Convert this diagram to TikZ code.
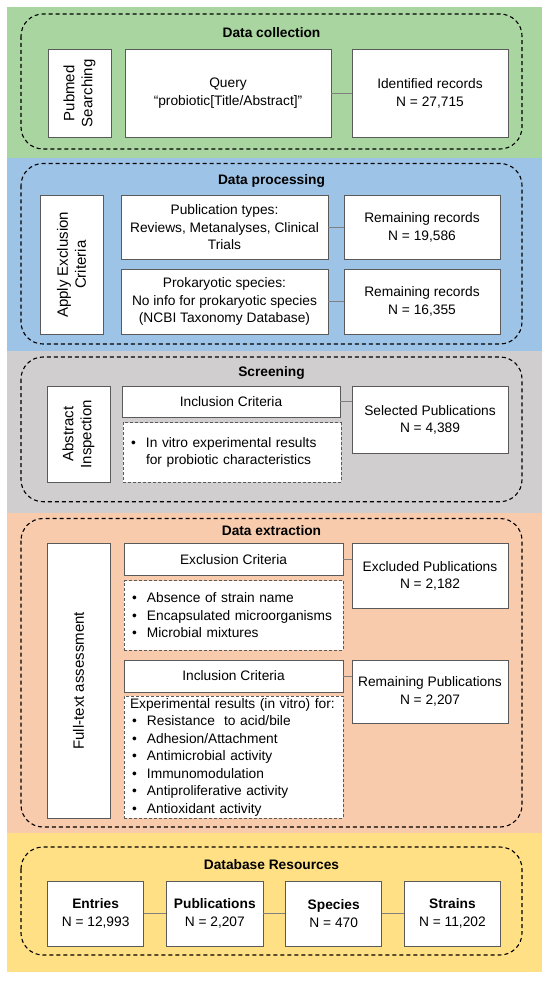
\documentclass[tikz,border=0pt]{standalone}
\usepackage{fontspec}
\setmainfont{Liberation Sans}
\definecolor{bgreen}{HTML}{A9D5A0}
\definecolor{bblue}{HTML}{9DC3E6}
\definecolor{bgray}{HTML}{D0CECE}
\definecolor{borange}{HTML}{F8CBAD}
\definecolor{byellow}{HTML}{FFE085}
\definecolor{boxc}{HTML}{5A5A5A}
\definecolor{linkc}{HTML}{808080}
\newcommand\fsz{\fontsize{13.75}{17.5}\selectfont}
\newcommand\rsz{\fontsize{15}{18}\selectfont}
\newcommand\bitem{\makebox[17pt][l]{\hspace{2pt}•}}
\begin{document}
\begin{tikzpicture}[x=1pt,y=-1pt,
  box/.style={draw=boxc, fill=white, line width=0.9pt, inner sep=2pt, align=center, font=\fsz},
  rbox/.style={box, rotate=90, font=\rsz},
  listbox/.style={draw=boxc, fill=white, dash pattern=on 3pt off 2pt, line width=0.9pt, inner xsep=6pt, inner ysep=2pt, align=left, font=\fsz},
  frame/.style={draw=black, line width=1.1pt, dash pattern=on 4pt off 3pt, rounded corners=22pt},
  ttl/.style={font=\fsz\bfseries},
  link/.style={draw=linkc, line width=0.8pt}]
\useasboundingbox (0,0) rectangle (550,984);
% bands
\fill[bgreen] (7,7) rectangle (542,158);
\fill[bblue] (7,158) rectangle (542,350.5);
\fill[bgray] (7,350.5) rectangle (542,512.5);
\fill[borange] (7,512.5) rectangle (542,832.5);
\fill[byellow] (7,832.5) rectangle (542,972);
% frames
\draw[frame] (21,14) rectangle (522,149);
\draw[frame] (21,163.5) rectangle (522,344);
\draw[frame] (21,357) rectangle (522,501.7);
\draw[frame] (21,518.5) rectangle (522,827);
\draw[frame] (21,847) rectangle (522,955);
% titles
\node[ttl] (t1) at (271.5,32.5) {Data collection};
\node[ttl] (t2) at (271.5,181) {Data processing};
\node[ttl] (t3) at (271.5,373) {Screening};
\node[ttl] (t4) at (271.5,530.5) {Data extraction};
\node[ttl] (t5) at (271.5,865) {Database Resources};
% data collection
\node[rbox, minimum width=87.5pt, minimum height=63pt] (pub) at (79.5,93.25) {Pubmed\\Searching};
\node[box, minimum width=206pt, minimum height=87.5pt] (query) at (228,93.25) {Query\\“probiotic[Title/Abstract]"};
\node[box, minimum width=156pt, minimum height=87.5pt] (ident) at (430,93.25) {Identified records\\N = 27,715};
\draw[link] (query.east) -- (ident.west);
% data processing
\node[rbox, minimum width=138.5pt, minimum height=63pt] (apply) at (71.5,264.75) {Apply Exclusion\\Criteria};
\node[box, minimum width=207pt, minimum height=64pt] (ptypes) at (224.5,227.5) {Publication types:\\Reviews, Metanalyses, Clinical\\Trials};
\node[box, minimum width=207pt, minimum height=65pt] (prok) at (224.5,301.5) {Prokaryotic species:\\No info for prokaryotic species\\(NCBI Taxonomy Database)};
\node[box, minimum width=156pt, minimum height=64pt] (rem1) at (422,227.5) {Remaining records\\N = 19,586};
\node[box, minimum width=156pt, minimum height=65pt] (rem2) at (422,301.5) {Remaining records\\N = 16,355};
\draw[link] (ptypes.east) -- (rem1.west);
\draw[link] (prok.east) -- (rem2.west);
% screening
\node[rbox, minimum width=95.5pt, minimum height=63pt] (abst) at (78.5,434.25) {Abstract\\Inspection};
\node[box, minimum width=218pt, minimum height=30.5pt] (incl) at (231,401.75) {Inclusion Criteria};
\node[listbox, text width=206pt, minimum height=59.3pt] (ilist) at (232,452.35) {\bitem In vitro experimental results\\\hspace*{17pt}for probiotic characteristics};
\node[box, minimum width=156pt, minimum height=66.5pt] (sel) at (430,419.75) {Selected Publications\\N = 4,389};
\draw[link] (incl.east) -- (incl.east -| sel.west);
% data extraction
\node[rbox, minimum width=274.5pt, minimum height=63pt] (full) at (78.5,680.75) {Full-text assessment};
\node[box, minimum width=219pt, minimum height=31.5pt] (excl) at (233.5,559.25) {Exclusion Criteria};
\node[listbox, text width=207pt, minimum height=69.5pt] (elist) at (233.5,615.25) {\bitem Absence of strain name\\\bitem Encapsulated microorganisms\\\bitem Microbial mixtures};
\node[box, minimum width=156pt, minimum height=64.5pt] (exd) at (430,575.75) {Excluded Publications\\N = 2,182};
\draw[link] (excl.east) -- (excl.east -| exd.west);
\node[box, minimum width=219pt, minimum height=32pt] (incl2) at (233.5,676) {Inclusion Criteria};
\node[box, minimum width=156pt, minimum height=63pt] (rempub) at (430,691.5) {Remaining Publications\\N = 2,207};
\draw[link] (incl2.east) -- (incl2.east -| rempub.west);
\node[listbox, text width=207pt, minimum height=122pt] (ilist2) at (233.5,757) {Experimental results (in vitro) for:\\\bitem Resistance\ \ to acid/bile\\\bitem Adhesion/Attachment\\\bitem Antimicrobial activity\\\bitem Immunomodulation\\\bitem Antiproliferative activity\\\bitem Antioxidant activity};
% database resources
\node[box, minimum width=96.4pt, minimum height=65pt] (entries) at (95.6,913.5) {\textbf{Entries}\\N = 12,993};
\node[box, minimum width=96.4pt, minimum height=65pt] (pubs) at (214.8,913.5) {\textbf{Publications}\\N = 2,207};
\node[box, minimum width=95.7pt, minimum height=65pt] (species) at (333.7,913.5) {\textbf{Species}\\N = 470};
\node[box, minimum width=96pt, minimum height=65pt] (strains) at (452.4,913.5) {\textbf{Strains}\\N = 11,202};
\draw[link] (entries.east) -- (pubs.west);
\draw[link] (pubs.east) -- (species.west);
\draw[link] (species.east) -- (strains.west);
\end{tikzpicture}
\end{document}
